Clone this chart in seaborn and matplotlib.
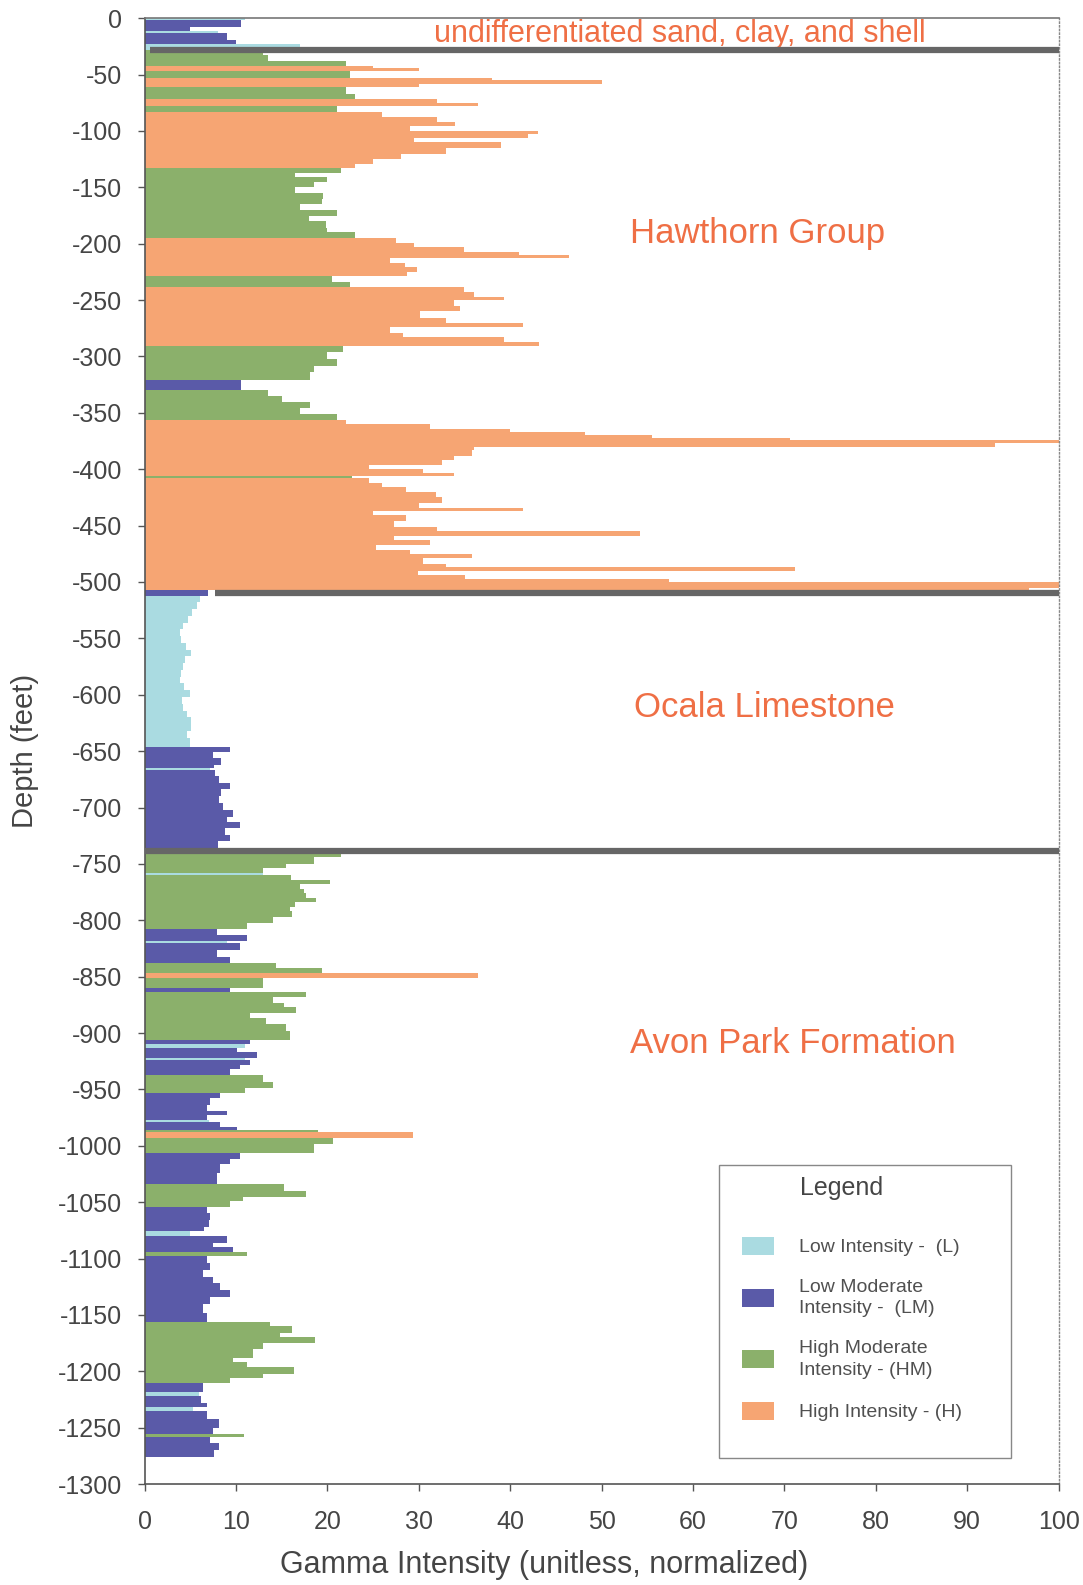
import numpy as np
import pandas as pd
import matplotlib
matplotlib.use("Agg")
import matplotlib.pyplot as plt
from matplotlib.patches import Patch, Rectangle
import seaborn as sns

# gamma log: each interval is given by its top depth (ft), the normalized
# gamma value and the intensity class it was assigned to
undiff_top = [0, -2, -8, -11, -13, -19, -23]
undiff_gamma = [11, 10.5, 5, 8, 9, 10, 17]
undiff_class = ["L", "LM", "LM", "L", "LM", "LM", "L"]

hawthorn_top = [
    -28, -33, -38, -42, -44, -47, -53, -55, -58, -61, -67, -72, -75, -78,
    -83, -88, -92, -96, -100, -103, -106, -110, -115, -120, -125, -129,
    -133, -137, -141, -145, -150, -155, -160, -165, -170, -175, -180, -186, -190,
    -195, -199, -203, -207, -210, -213, -217, -221, -225,
    -229, -234,
    -238.5, -243, -247, -250, -255, -260, -266, -270, -274, -279, -283, -287,
    -291, -296, -302, -308, -314,
    -321,
    -330, -335, -340, -346, -351,
    -356, -360, -364, -367, -370, -372, -374, -377, -380, -383, -388, -392, -396, -400, -403,
    -406,
    -408, -412, -416, -420, -425, -430, -434, -437, -441, -446, -451, -455, -459,
    -463, -467, -472, -475, -479, -484, -487, -490, -494, -497, -500, -505,
]
hawthorn_gamma = [
    13, 13.5, 22, 25, 30, 22.5, 38, 50, 30, 22, 23, 32, 36.5, 21,
    26, 32, 34, 29, 43, 42, 29.5, 39, 33, 28, 25, 23,
    21.5, 16.5, 20, 18.5, 16.5, 19.5, 19.4, 17, 21, 18, 19.9, 20, 23,
    27.5, 29.5, 35, 41, 46.4, 26.8, 28.5, 29.8, 28.7,
    20.5, 22.5,
    34.9, 36, 39.3, 33.8, 34.5, 30.1, 33, 41.4, 26.8, 28.3, 39.3, 43.1,
    21.7, 20, 21, 18.5, 18.1,
    10.5,
    13.5, 15, 18.1, 17, 21,
    22, 31.2, 40, 48.2, 55.5, 70.6, 100, 93, 36, 35.8, 33.8, 32.5, 24.6, 30.5, 33.8,
    22.7,
    24.6, 26, 28.6, 31.9, 32.5, 30, 41.4, 25, 28.6, 27.3, 32, 54.2, 27.3,
    31.2, 25.3, 29, 35.8, 30.5, 33, 71.2, 29.9, 35.1, 57.4, 100, 96.8,
]
hawthorn_class = [
    "HM", "HM", "HM", "H", "H", "HM", "H", "H", "H", "HM", "HM", "H", "H", "HM",
    "H", "H", "H", "H", "H", "H", "H", "H", "H", "H", "H", "H",
    "HM", "HM", "HM", "HM", "HM", "HM", "HM", "HM", "HM", "HM", "HM", "HM", "HM",
    "H", "H", "H", "H", "H", "H", "H", "H", "H",
    "HM", "HM",
    "H", "H", "H", "H", "H", "H", "H", "H", "H", "H", "H", "H",
    "HM", "HM", "HM", "HM", "HM",
    "LM",
    "HM", "HM", "HM", "HM", "HM",
    "H", "H", "H", "H", "H", "H", "H", "H", "H", "H", "H", "H", "H", "H", "H",
    "HM",
    "H", "H", "H", "H", "H", "H", "H", "H", "H", "H", "H", "H", "H",
    "H", "H", "H", "H", "H", "H", "H", "H", "H", "H", "H", "H",
]

ocala_top = [-507, -512, -518, -524, -530, -536, -542, -548, -554, -560, -566, -572,
             -578, -584, -590, -596, -602, -608, -614, -620, -626, -632, -638]
ocala_gamma = [6.9, 6.1, 5.7, 5.2, 4.8, 4.2, 3.9, 4.0, 4.5, 5.1, 4.4, 4.2,
               4.0, 3.9, 4.3, 5.0, 4.1, 4.2, 4.6, 5.1, 5.1, 4.6, 5.0]
ocala_class = ["LM", "L", "L", "L", "L", "L", "L", "L", "L", "L", "L", "L",
               "L", "L", "L", "L", "L", "L", "L", "L", "L", "L", "L"]

avon_top = [
    -646, -651, -656, -662, -665, -667, -672, -678, -684, -690, -696, -702, -708, -713, -718, -724, -730,
    -738, -744, -750, -754, -758, -760, -764, -768, -772, -776, -780, -784, -788, -792, -797, -802,
    -808, -813, -818, -820, -826, -833,
    -838, -842, -847, -851, -860, -864, -868, -873, -877, -882, -887, -892, -898,
    -906, -910, -913, -917, -922, -924, -928, -932,
    -937, -943, -949,
    -953, -958, -964, -969, -973, -977, -979, -983,
    -986, -988, -993, -998,
    -1006, -1012, -1016, -1024,
    -1034, -1040, -1045, -1049,
    -1054, -1060, -1066, -1072, -1076,
    -1080, -1086, -1090, -1094, -1098, -1104, -1110, -1116, -1122, -1128, -1134, -1140, -1148,
    -1156, -1160, -1166, -1170, -1175, -1180, -1188, -1192, -1196, -1202, -1206,
    -1210, -1218, -1222, -1228, -1232, -1235, -1242, -1250, -1256, -1258, -1264, -1270,
]
avon_gamma = [
    9.3, 7.5, 8.4, 7.6, 7.2, 7.7, 8.1, 9.3, 8.4, 8.1, 8.6, 9.7, 9.0, 10.4, 8.8, 9.3, 8.0,
    21.5, 18.5, 15.5, 13, 13, 16, 20.3, 17, 17.4, 17.7, 18.8, 16.5, 15.9, 16.1, 14.1, 11.2,
    7.9, 11.2, 9, 10.4, 7.9, 9.3,
    14.4, 19.4, 36.5, 13, 9.3, 17.7, 14.1, 15.2, 16.6, 11.5, 13.3, 15.5, 15.9,
    11.5, 11, 10.1, 12.3, 11, 11.5, 10.4, 9.3,
    13, 14.1, 11,
    8.2, 7.2, 6.8, 9, 6.8, 7, 8.2, 10.1,
    19, 29.4, 20.6, 18.5,
    10.4, 9.3, 8.2, 7.9,
    15.2, 17.7, 10.8, 9.3,
    6.8, 7.2, 7.0, 6.5, 5,
    9, 7.5, 9.7, 11.2, 6.8, 7.2, 6.4, 7.5, 8.2, 9.3, 7.2, 6.4, 6.8,
    13.7, 16.1, 14.8, 18.6, 13, 11.9, 9.7, 11.2, 16.3, 13, 9.3,
    6.4, 6, 6.2, 6.8, 5.3, 6.8, 8.1, 7.5, 10.9, 7.2, 8.1, 7.6,
]
avon_class = [
    "LM", "LM", "LM", "LM", "L", "LM", "LM", "LM", "LM", "LM", "LM", "LM", "LM", "LM", "LM", "LM", "LM",
    "HM", "HM", "HM", "HM", "L", "HM", "HM", "HM", "HM", "HM", "HM", "HM", "HM", "HM", "HM", "HM",
    "LM", "LM", "L", "LM", "LM", "LM",
    "HM", "HM", "H", "HM", "LM", "HM", "HM", "HM", "HM", "HM", "HM", "HM", "HM",
    "LM", "L", "LM", "LM", "L", "LM", "LM", "LM",
    "HM", "HM", "HM",
    "LM", "LM", "LM", "LM", "LM", "L", "LM", "LM",
    "HM", "H", "HM", "HM",
    "LM", "LM", "LM", "LM",
    "HM", "HM", "HM", "HM",
    "LM", "LM", "LM", "LM", "L",
    "LM", "LM", "LM", "HM", "LM", "LM", "LM", "LM", "LM", "LM", "LM", "LM", "LM",
    "HM", "HM", "HM", "HM", "HM", "HM", "HM", "HM", "HM", "HM", "HM",
    "LM", "L", "LM", "LM", "L", "LM", "LM", "LM", "HM", "LM", "LM", "LM",
]
log_bottom = -1276

class_order = ["L", "LM", "HM", "H"]
class_labels = ["Low Intensity -  (L)", "Low Moderate\nIntensity -  (LM)",
                "High Moderate\nIntensity - (HM)", "High Intensity - (H)"]
class_colors = {"L": "#aadbe1", "LM": "#5a5aa8", "HM": "#8bb06b", "H": "#f6a573"}

contacts = [-28.5, -510, -739]
formations = ["undifferentiated sand, clay, and shell", "Hawthorn Group",
              "Ocala Limestone", "Avon Park Formation"]

tops = undiff_top + hawthorn_top + ocala_top + avon_top
gamma = undiff_gamma + hawthorn_gamma + ocala_gamma + avon_gamma
intensity = undiff_class + hawthorn_class + ocala_class + avon_class
assert len(tops) == len(gamma) == len(intensity)

df = pd.DataFrame({"top": tops, "gamma": gamma, "intensity": intensity})
df["bottom"] = list(df["top"].iloc[1:]) + [log_bottom]
df["mid"] = (df["top"] + df["bottom"]) / 2
edges = sorted(tops + [log_bottom])

sns.set_theme(style="white")
plt.rcParams["font.family"] = ["Liberation Sans", "DejaVu Sans"]
plt.rcParams["axes.unicode_minus"] = False

fig = plt.figure(figsize=(10.83, 15.85), dpi=100)
ax = fig.add_axes([0.1335, 0.0637, 0.844, 0.9248])

sns.histplot(data=df, y="mid", weights="gamma", bins=edges, hue="intensity",
             hue_order=class_order, palette=class_colors, multiple="layer",
             element="bars", fill=True, alpha=1, linewidth=0, legend=False, ax=ax)

# formation contacts
ax.hlines(contacts[0], 0.6, 100, color="#666666", lw=4.5, zorder=5)
ax.hlines(contacts[1], 7.7, 100, color="#666666", lw=4.5, zorder=5)
ax.hlines(contacts[2], 0, 100, color="#666666", lw=4.5, zorder=5)

txt_color = "#ef6f45"
ax.text(58.6, -14, formations[0], color=txt_color, fontsize=22, ha="center", va="center")
ax.text(67.1, -191, formations[1], color=txt_color, fontsize=25, ha="center", va="center")
ax.text(67.8, -611, formations[2], color=txt_color, fontsize=25, ha="center", va="center")
ax.text(70.9, -909, formations[3], color=txt_color, fontsize=25, ha="center", va="center")

ax.set_xlim(0, 100)
ax.set_ylim(-1300, 0)
ax.set_xticks(np.arange(0, 101, 10))
ax.set_yticks(np.arange(-1300, 1, 50))
ax.tick_params(axis="both", colors="#555555", labelcolor="#454545", labelsize=18,
               direction="out", length=5, width=1)
ax.tick_params(axis="x", pad=14, bottom=True)
ax.tick_params(axis="y", pad=11, left=True)

ax.set_xlabel("Gamma Intensity (unitless, normalized)", fontsize=22, color="#454545", va="center")
ax.set_ylabel("Depth (feet)", fontsize=21, color="#454545", va="center")
ax.xaxis.set_label_coords(0.437, -0.055)
ax.yaxis.set_label_coords(-0.131, 0.5)

for side in ["left", "bottom"]:
    ax.spines[side].set_color("#555555")
    ax.spines[side].set_linewidth(1.2)
ax.spines["top"].set_color("#777777")
ax.spines["top"].set_linewidth(1.2)
ax.spines["right"].set_color("#888888")
ax.spines["right"].set_linewidth(1)
ax.spines["right"].set_linestyle(":")

# legend box with the class swatches
ax.add_patch(Rectangle((0.628, 0.0177), 0.32, 0.2, transform=ax.transAxes,
                       facecolor="white", edgecolor="#888888", lw=1, zorder=6))
ax.text(0.762, 0.202, "Legend", transform=ax.transAxes, fontsize=18,
        color="#454545", ha="center", va="center", zorder=7)
handles = [Patch(facecolor=class_colors[c], edgecolor="none") for c in class_order]
leg = ax.legend(handles, class_labels, loc="upper left",
                bbox_to_anchor=(0.6425, 0.1755), frameon=False, fontsize=14,
                handlelength=1.65, handleheight=1.05,
                handletextpad=1.3, labelspacing=1.17, borderpad=0)
leg.set_zorder(7)
for t in leg.get_texts():
    t.set_color("#505050")
    t.set_linespacing(1.35)

fig.savefig("out.png", dpi=100)
